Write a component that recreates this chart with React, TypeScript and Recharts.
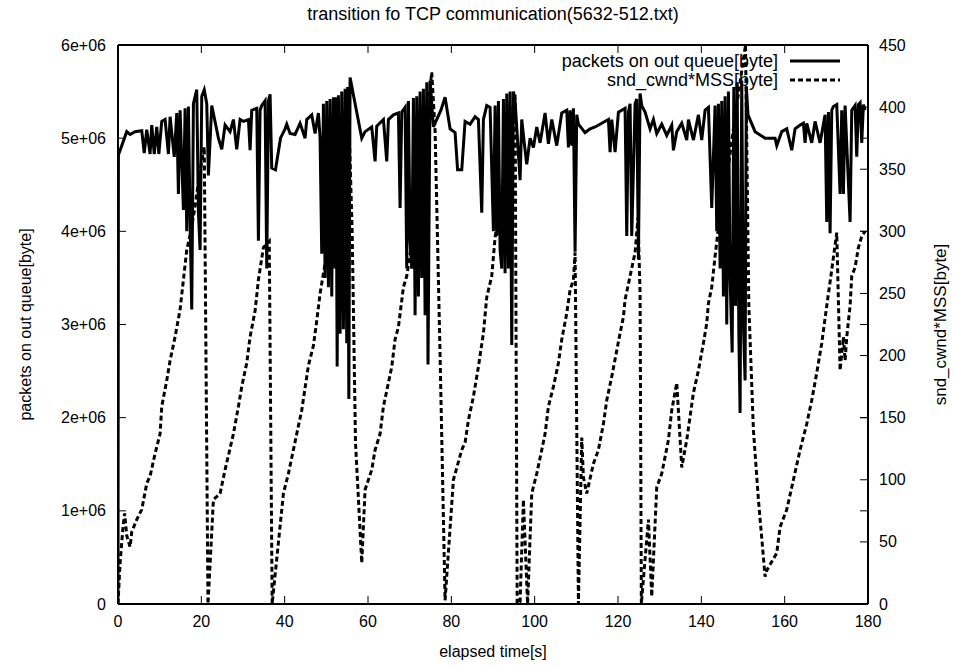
import { Label, Line, LineChart, XAxis, YAxis } from 'recharts';

// [elapsed seconds, packets on out queue in 1e6 bytes]
const queueSamples: [number, number][] = [
  [0, 0], [0.1, 4.82], [2.1, 5.07], [2.9, 5.04], [4.1, 5.07], [5.7, 5.08], [6.3, 4.84], [6.9, 5.09],
  [7.7, 4.83], [8.1, 5.14], [8.7, 4.83], [9.3, 5.12], [9.8, 4.83], [10.5, 5.18], [11.3, 5.2], [12.1, 4.83],
  [12.5, 5.23], [13.5, 4.8], [14.1, 5.27], [14.5, 4.4], [14.9, 5.3], [15.7, 4.23], [16.1, 5.32], [16.5, 4.0],
  [16.9, 5.34], [17.3, 4.1], [17.7, 3.16], [18.1, 5.37], [18.9, 5.52], [19.3, 4.2], [19.7, 3.8], [20.1, 5.45],
  [20.7, 5.52], [21.3, 5.37], [21.7, 4.6], [22.5, 5.35], [24.1, 5.0], [24.9, 4.88], [25.7, 5.14], [26.9, 5.07],
  [27.7, 5.2], [28.5, 4.88], [29.3, 5.2], [30.1, 5.18], [31.3, 5.2], [31.7, 4.87], [32.1, 5.3], [33.3, 5.32],
  [33.7, 3.9], [34.1, 5.3], [34.5, 5.35], [35.3, 5.4], [35.7, 3.6], [36.1, 5.4], [36.5, 5.47], [36.9, 4.68],
  [37.8, 4.66], [39.0, 5.0], [40.1, 5.1], [40.5, 5.15], [41.3, 5.05], [42.5, 5.04], [43.7, 5.16], [44.9, 5.0],
  [45.3, 5.2], [46.5, 5.25], [47.3, 5.05], [48.1, 5.27], [48.5, 5.0], [48.9, 3.76], [49.3, 5.37], [49.7, 3.5],
  [50.1, 5.4], [50.5, 3.4], [50.9, 5.42], [51.3, 3.3], [51.7, 5.44], [52.1, 3.6], [52.3, 5.44], [52.6, 2.55],
  [52.9, 5.46], [53.3, 2.9], [53.7, 5.5], [54.1, 2.95], [54.5, 5.53], [54.9, 2.8], [55.1, 5.55], [55.4, 2.2],
  [55.7, 5.65], [58.5, 5.0], [59.3, 5.07], [60.9, 5.12], [61.7, 4.75], [62.1, 5.13], [63.7, 5.2], [64.5, 4.75],
  [64.9, 5.2], [66.1, 5.25], [67.3, 5.27], [67.7, 4.25], [68.1, 5.28], [68.9, 5.33], [69.3, 3.6], [69.7, 5.4],
  [70.1, 3.9], [70.5, 3.6], [70.9, 5.43], [71.3, 3.1], [71.7, 5.45], [72.1, 3.3], [72.5, 5.5], [72.9, 3.5],
  [73.3, 5.53], [73.7, 3.1], [74.1, 5.6], [74.4, 2.57], [74.9, 5.62], [75.7, 5.12], [77.5, 5.3], [78.5, 5.44],
  [79.7, 5.1], [80.9, 5.06], [81.5, 4.66], [82.5, 4.66], [83.3, 5.18], [84.5, 5.15], [85.7, 5.23], [86.5, 5.2],
  [87.3, 4.2], [87.7, 5.2], [88.5, 5.35], [89.3, 5.33], [90.1, 4.0], [90.5, 5.35], [90.9, 3.95], [91.3, 5.4],
  [91.7, 3.8], [92.1, 3.6], [92.5, 5.42], [92.9, 3.55], [93.3, 5.48], [93.7, 3.6], [94.1, 5.5], [94.5, 2.78],
  [94.9, 5.5], [95.3, 5.4], [96.0, 4.9], [96.5, 4.55], [96.9, 5.2], [97.5, 4.95], [98.1, 4.72], [98.9, 5.0],
  [99.7, 4.9], [100.5, 5.12], [101.3, 4.95], [102.5, 5.27], [103.3, 4.94], [104.1, 5.2], [105.3, 4.92], [106.5, 5.27],
  [107.7, 5.3], [108.1, 4.9], [108.5, 5.3], [108.9, 4.92], [109.3, 5.32], [109.7, 3.78], [110.1, 5.25], [110.5, 5.15],
  [112.1, 5.06], [113.3, 5.1], [114.5, 5.12], [116.1, 5.16], [117.7, 5.2], [118.1, 4.85], [118.5, 5.2], [119.3, 4.85],
  [120.1, 5.28], [121.7, 5.32], [122.1, 3.95], [122.5, 5.28], [122.9, 5.37], [123.3, 3.95], [124.1, 5.37], [124.5, 5.42],
  [124.9, 3.7], [125.3, 5.48], [125.7, 5.35], [126.5, 5.28], [127.7, 5.1], [128.5, 5.2], [129.3, 5.05], [130.5, 5.15],
  [131.7, 5.03], [132.9, 5.14], [133.3, 4.87], [134.1, 5.07], [135.3, 5.16], [136.5, 4.98], [136.9, 5.2], [138.1, 4.98],
  [139.3, 5.25], [140.1, 4.98], [140.9, 5.3], [141.7, 5.33], [142.5, 4.25], [143.3, 5.35], [143.7, 4.0], [144.1, 5.37],
  [144.5, 3.6], [144.9, 5.4], [145.3, 3.3], [145.7, 5.45], [146.1, 3.0], [146.5, 5.5], [146.9, 3.5], [147.4, 2.7],
  [147.8, 5.55], [148.2, 3.2], [148.6, 5.6], [149.0, 2.9], [149.3, 2.05], [149.7, 5.62], [150.1, 3.0], [150.5, 2.4],
  [150.8, 5.55], [151.2, 5.25], [152.9, 5.07], [155.3, 5.0], [157.7, 5.0], [158.1, 4.92], [159.3, 5.07], [160.5, 5.1],
  [161.7, 4.87], [162.5, 5.1], [163.7, 5.14], [164.5, 5.16], [164.9, 4.95], [165.3, 5.16], [166.5, 4.95], [167.3, 5.18],
  [168.5, 4.95], [169.7, 5.25], [170.1, 4.1], [170.5, 5.28], [170.9, 3.98], [171.3, 5.3], [171.7, 5.34], [172.5, 5.36],
  [173.3, 4.4], [173.7, 5.3], [174.1, 4.4], [174.5, 5.35], [175.7, 4.1], [176.1, 5.3], [176.9, 5.35], [177.3, 4.8],
  [177.7, 5.36], [178.1, 5.38], [178.5, 4.95], [178.9, 5.36], [179.3, 5.3],
];

// [elapsed seconds, snd_cwnd*MSS read on the right axis]
const cwndSamples: [number, number][] = [
  [0, 0], [0.5, 33], [1.2, 62], [1.6, 73], [2.1, 55], [2.9, 46], [3.3, 58], [4.5, 68], [5.7, 76], [6.9, 97],
  [7.7, 103], [8.9, 121], [10.1, 137], [10.5, 159], [11.7, 180], [12.5, 196], [13.7, 215], [14.9, 237], [15.7, 261],
  [16.5, 285], [17.5, 300], [18.5, 320], [19.5, 345], [20.7, 368], [21.6, 0], [22.9, 84], [24.5, 89], [25.7, 108],
  [27.7, 137], [28.9, 159], [29.7, 175], [30.9, 194], [31.7, 215], [32.9, 236], [33.7, 261], [34.9, 287], [36.3, 292],
  [37.0, 0], [39.7, 89], [40.9, 105], [42.9, 137], [44.1, 156], [45.7, 192], [46.9, 208], [47.7, 228], [48.5, 250],
  [49.7, 274], [51.0, 300], [52.5, 335], [54.0, 370], [55.2, 414], [56.2, 300], [57.0, 130], [58.5, 33], [59.3, 92],
  [60.9, 108], [61.7, 124], [62.9, 137], [63.7, 159], [64.9, 178], [65.7, 191], [66.5, 213], [67.3, 223], [68.5, 255],
  [69.3, 264], [70.5, 290], [72.0, 330], [73.5, 370], [75.3, 428], [76.1, 381], [77.3, 200], [78.5, 3], [80.5, 100],
  [82.5, 124], [83.3, 130], [84.1, 148], [85.3, 167], [86.5, 191], [87.7, 218], [88.5, 247], [89.7, 264], [90.5, 295],
  [92.0, 330], [93.5, 370], [95.3, 410], [95.8, 0], [96.5, 2], [97.3, 84], [98.3, 0], [99.3, 89], [100.5, 105],
  [101.7, 124], [102.5, 137], [103.3, 159], [104.5, 175], [105.7, 194], [106.5, 213], [107.7, 234], [108.5, 253],
  [109.3, 261], [109.7, 283], [110.5, 0], [111.3, 134], [111.7, 102], [112.5, 89], [114.1, 113], [115.3, 124],
  [116.5, 145], [117.3, 164], [118.5, 183], [119.3, 197], [120.5, 218], [121.3, 231], [121.7, 245], [122.9, 264],
  [124.1, 283], [124.8, 311], [125.3, 250], [125.6, 0], [127.3, 68], [128.1, 6], [129.3, 94], [130.5, 105],
  [132.1, 132], [132.9, 156], [134.1, 178], [135.3, 110], [136.5, 132], [138.1, 170], [139.3, 188], [140.5, 210],
  [141.3, 226], [141.7, 242], [142.5, 255], [143.3, 280], [144.1, 303], [146.0, 340], [148.0, 390], [150.6, 450],
  [151.4, 240], [152.5, 140], [153.7, 84], [155.3, 22], [155.7, 27], [158.1, 41], [158.9, 62], [160.5, 76],
  [162.1, 100], [163.7, 124], [165.3, 145], [166.5, 164], [167.7, 186], [168.9, 210], [170.1, 240], [171.3, 269],
  [172.5, 299], [173.3, 188], [174.1, 215], [174.5, 196], [174.9, 215], [175.7, 240], [176.1, 264], [176.9, 271],
  [177.7, 287], [178.5, 296], [179.3, 300],
];

const timeTicks = [0, 20, 40, 60, 80, 100, 120, 140, 160, 180];
const queueTicks = [0, 1e6, 2e6, 3e6, 4e6, 5e6, 6e6];
const cwndTicks = [0, 50, 100, 150, 200, 250, 300, 350, 400, 450];

const queueData = queueSamples.map(([t, mb]) => ({ t, queue: mb * 1e6 }));
const cwndData = cwndSamples.map(([t, c]) => ({ t, cwnd: c }));

const W = 953;
const H = 666;
const PLOT = { left: 118, right: 868, top: 45, bottom: 604 };
const TICK = 8;
const FONT = '"Liberation Sans", Arial, Helvetica, sans-serif';
const FONT_SIZE = 16;
const MID_Y = (PLOT.top + PLOT.bottom) / 2;

const fmtQueue = (v: number) => (v === 0 ? '0' : `${v / 1e6}e+06`);

function LeftTick({ y, payload }: any) {
  return (
    <g>
      <line x1={PLOT.left} x2={PLOT.left + TICK} y1={y} y2={y} stroke="#000" />
      <line x1={PLOT.right - TICK} x2={PLOT.right} y1={y} y2={y} stroke="#000" />
      <text x={PLOT.left - 12} y={y} textAnchor="end" dominantBaseline="central" fill="#000">
        {fmtQueue(payload.value)}
      </text>
    </g>
  );
}

function RightTick({ y, payload }: any) {
  return (
    <g>
      <line x1={PLOT.right - TICK} x2={PLOT.right} y1={y} y2={y} stroke="#000" />
      <text x={PLOT.right + 11} y={y} textAnchor="start" dominantBaseline="central" fill="#000">
        {payload.value}
      </text>
    </g>
  );
}

function BottomTick({ x, payload }: any) {
  return (
    <g>
      <line x1={x} x2={x} y1={PLOT.bottom} y2={PLOT.bottom - TICK} stroke="#000" />
      <line x1={x} x2={x} y1={PLOT.top} y2={PLOT.top + TICK} stroke="#000" />
      <text x={x} y={PLOT.bottom + 17} textAnchor="middle" dominantBaseline="central" fill="#000">
        {payload.value}
      </text>
    </g>
  );
}

// drawn under the chart svg so the plotted lines pass over it, as in gnuplot
function Legend() {
  const rows = [
    { label: 'packets on out queue[byte]', dash: undefined, y: 61 },
    { label: 'snd_cwnd*MSS[byte]', dash: '5 3', y: 80 },
  ];
  return (
    <svg width={W} height={100} style={{ position: 'absolute', left: 0, top: 0 }}>
      {rows.map((r) => (
        <g key={r.label}>
          <text x={778} y={r.y} textAnchor="end" dominantBaseline="central" fontSize={18} fontFamily={FONT}>
            {r.label}
          </text>
          <line x1={790} x2={840} y1={r.y} y2={r.y} stroke="#000" strokeWidth={3} strokeDasharray={r.dash} />
        </g>
      ))}
    </svg>
  );
}

export default function App() {
  return (
    <div
      style={{
        position: 'absolute',
        left: 0,
        top: 0,
        width: W,
        height: H,
        background: '#fff',
        fontFamily: FONT,
        fontSize: FONT_SIZE,
      }}
    >
      <Legend />
      <LineChart width={W} height={H} margin={{ top: 0, right: 0, bottom: 0, left: 0 }}>
        <XAxis
          dataKey="t"
          type="number"
          domain={[0, 180]}
          ticks={timeTicks}
          interval={0}
          allowDataOverflow
          height={PLOT.top}
          orientation="top"
          xAxisId="top"
          axisLine={{ stroke: '#000', strokeWidth: 2 }}
          tickLine={false}
          tick={() => null}
        >
          <Label
            content={() => (
              <text
                x={(PLOT.left + PLOT.right) / 2}
                y={14}
                textAnchor="middle"
                dominantBaseline="central"
                fontSize={18}
                fill="#000"
              >
                transition fo TCP communication(5632-512.txt)
              </text>
            )}
          />
        </XAxis>
        <XAxis
          dataKey="t"
          type="number"
          domain={[0, 180]}
          ticks={timeTicks}
          interval={0}
          allowDataOverflow
          height={H - PLOT.bottom}
          axisLine={{ stroke: '#000', strokeWidth: 2 }}
          tickLine={false}
          tickSize={0}
          tickMargin={0}
          tick={<BottomTick />}
        >
          <Label
            content={() => (
              <text x={(PLOT.left + PLOT.right) / 2} y={651} textAnchor="middle" dominantBaseline="central" fill="#000">
                elapsed time[s]
              </text>
            )}
          />
        </XAxis>
        <YAxis
          yAxisId="left"
          domain={[0, 6e6]}
          ticks={queueTicks}
          interval={0}
          allowDataOverflow
          width={PLOT.left}
          axisLine={{ stroke: '#000', strokeWidth: 2 }}
          tickLine={false}
          tickSize={0}
          tickMargin={0}
          tick={<LeftTick />}
        >
          <Label
            content={() => (
              <text
                x={25}
                y={MID_Y}
                transform={`rotate(-90 25 ${MID_Y})`}
                textAnchor="middle"
                dominantBaseline="central"
                fill="#000"
              >
                packets on out queue[byte]
              </text>
            )}
          />
        </YAxis>
        <YAxis
          yAxisId="right"
          orientation="right"
          domain={[0, 450]}
          ticks={cwndTicks}
          interval={0}
          allowDataOverflow
          width={W - PLOT.right}
          axisLine={{ stroke: '#000', strokeWidth: 2 }}
          tickLine={false}
          tickSize={0}
          tickMargin={0}
          tick={<RightTick />}
        >
          <Label
            content={() => (
              <text
                x={940}
                y={MID_Y}
                transform={`rotate(-90 940 ${MID_Y})`}
                textAnchor="middle"
                dominantBaseline="central"
                fontSize={17}
                fill="#000"
              >
                snd_cwnd*MSS[byte]
              </text>
            )}
          />
        </YAxis>
        <Line
          yAxisId="left"
          data={queueData}
          dataKey="queue"
          type="linear"
          stroke="#000"
          strokeWidth={3}
          dot={false}
          isAnimationActive={false}
        />
        <Line
          yAxisId="right"
          data={cwndData}
          dataKey="cwnd"
          type="linear"
          stroke="#000"
          strokeWidth={3}
          strokeDasharray="5 3"
          dot={false}
          isAnimationActive={false}
        />
      </LineChart>
    </div>
  );
}
